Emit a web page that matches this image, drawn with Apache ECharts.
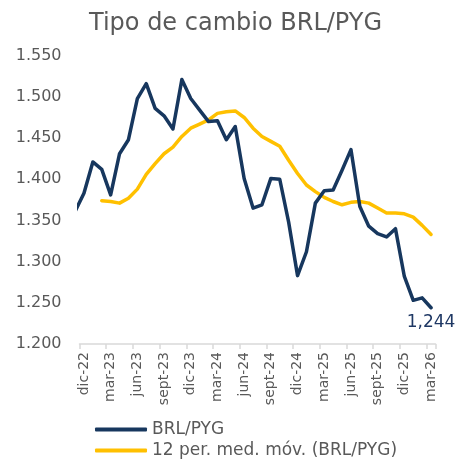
<!DOCTYPE html>
<html>
<head>
<meta charset="utf-8">
<script src="https://cdn.jsdelivr.net/npm/echarts@6/dist/echarts.min.js"></script>
<style>
  html, body { margin: 0; padding: 0; background: #fff; }
  #chart { width: 457px; height: 459px; }
</style>
</head>
<body>
<div id="chart"></div>
<script>
// meses (nov-22 ... mar-26), nov-22 queda recortado a la izquierda del eje
var months = ['nov-22','dic-22','ene-23','feb-23','mar-23','abr-23','may-23','jun-23','jul-23','ago-23',
	'sept-23','oct-23','nov-23','dic-23','ene-24','feb-24','mar-24','abr-24','may-24','jun-24',
	'jul-24','ago-24','sept-24','oct-24','nov-24','dic-24','ene-25','feb-25','mar-25','abr-25',
	'may-25','jun-25','jul-25','ago-25','sept-25','oct-25','nov-25','dic-25','ene-26','feb-26','mar-26'];

var brlPyg = [1361, 1383, 1421, 1412, 1381, 1431, 1448, 1498, 1516, 1486,
	1477, 1461, 1521, 1498, 1484, 1470, 1471, 1448, 1464, 1401,
	1365, 1369, 1401, 1400, 1348, 1283, 1312, 1371, 1386, 1387,
	1411, 1436, 1367, 1343, 1334, 1330, 1340, 1282, 1253, 1256, 1244];

var mediaMovil = [null, null, null, 1374, 1373, 1371, 1377, 1388, 1406, 1419,
	1431, 1439, 1452, 1462, 1467, 1472, 1480, 1482, 1483, 1475,
	1462, 1452, 1446, 1440, 1423, 1407, 1393, 1385, 1378, 1373,
	1369, 1372, 1373, 1371, 1365, 1359, 1359, 1358, 1354, 1344, 1333];

var tickLabels = ['dic-22','mar-23','jun-23','sept-23','dic-23','mar-24','jun-24',
	'sept-24','dic-24','mar-25','jun-25','sept-25','dic-25','mar-26'];

var FONT = 'DejaVu Sans';
var GREY = '#595959';

// posicion x = indice del mes, dic-22 = 0
function toPoints(arr) {
	var out = [];
	for (var k = 0; k < arr.length; k++) {
		out.push([k - 1, arr[k]]);
	}
	return out;
}

var labelPos = [], tickPos = [];
for (var i = 0; i < tickLabels.length; i++) {
	labelPos.push(i * 3);
	tickPos.push(i * 3 - 0.5);
}
tickPos.push(39.5);

var lastIdx = brlPyg.length - 1;
var lastVal = brlPyg[lastIdx];

var myChart = echarts.init(document.getElementById('chart'), null, { renderer: 'canvas' });

var option = {
	animation: false,
	backgroundColor: '#ffffff',
	title: {
		text: 'Tipo de cambio BRL/PYG',
		left: 84,
		top: 7,
		textStyle: { fontFamily: FONT, fontSize: 24, fontWeight: 'normal', color: GREY }
	},
	legend: {
		orient: 'vertical',
		left: 95,
		top: 421,
		padding: 0,
		height: 60,
		itemGap: 4,
		itemWidth: 52,
		itemHeight: 4,
		icon: 'roundRect',
		textStyle: { fontFamily: FONT, fontSize: 17, color: GREY },
		data: ['BRL/PYG', '12 per. med. móv. (BRL/PYG)']
	},
	grid: {
		left: 79.5,
		right: 21.5,
		top: 55.7,
		bottom: 115,
		outerBoundsMode: 'none'
	},
	xAxis: {
		type: 'value',
		min: -0.5,
		max: 39.5,
		axisLine: { show: true, lineStyle: { color: '#d9d9d9', width: 1.5 } },
		axisTick: { show: true, length: 5, customValues: tickPos, lineStyle: { color: '#d9d9d9', width: 1.5 } },
		splitLine: { show: false },
		axisLabel: {
			customValues: labelPos,
			rotate: 90,
			margin: 8,
			fontFamily: FONT,
			fontSize: 14,
			color: GREY,
			formatter: function (v) {
				return tickLabels[Math.round(v / 3)];
			}
		}
	},
	yAxis: {
		type: 'value',
		min: 1200,
		max: 1550,
		interval: 50,
		axisLine: { show: false },
		axisTick: { show: false },
		splitLine: { show: false },
		axisLabel: {
			margin: 18,
			fontFamily: FONT,
			fontSize: 16,
			color: GREY,
			formatter: function (v) {
				return (v / 1000).toFixed(3);
			}
		}
	},
	series: [
		{
			name: 'BRL/PYG',
			type: 'line',
			data: toPoints(brlPyg),
			showSymbol: false,
			clip: true,
			z: 3,
			lineStyle: { color: '#17375E', width: 3.5, cap: 'round', join: 'round' },
			itemStyle: { color: '#17375E' },
			markPoint: {
				symbol: 'circle',
				symbolSize: 0,
				data: [{ coord: [lastIdx - 1, lastVal], value: lastVal }],
				label: {
					show: true,
					position: 'bottom',
					distance: 6,
					fontFamily: FONT,
					fontSize: 17,
					color: '#1F3864',
					formatter: function (p) {
						return (p.value / 1000).toFixed(3).replace('.', ',');
					}
				}
			}
		},
		{
			name: '12 per. med. móv. (BRL/PYG)',
			type: 'line',
			data: toPoints(mediaMovil),
			showSymbol: false,
			clip: true,
			z: 2,
			lineStyle: { color: '#FFC000', width: 3.5, cap: 'round', join: 'round' },
			itemStyle: { color: '#FFC000' }
		}
	]
};

myChart.setOption(option);
</script>
</body>
</html>
